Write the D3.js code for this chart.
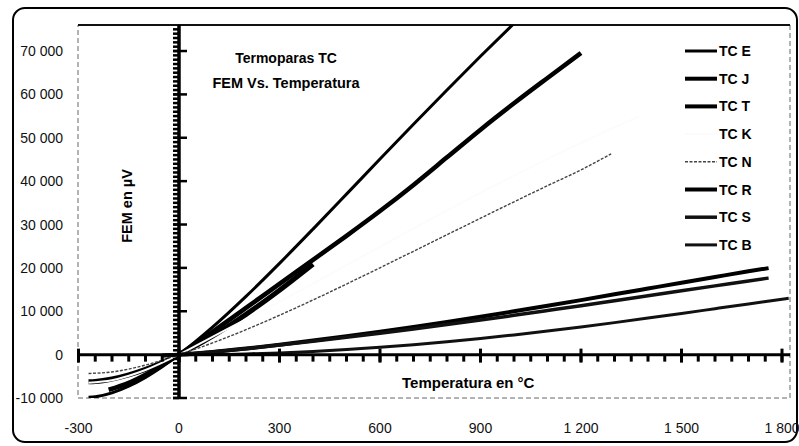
<!DOCTYPE html>
<html lang="es">
  <head>
    <meta charset="UTF-8" />
    <title>Termoparas TC</title>
    <style>
      body { margin: 0; background: #fff; }
      svg { display: block; font-family: "Liberation Sans", Arial, sans-serif; }
    </style>
    <script src="https://cdn.jsdelivr.net/npm/d3@7"></script>
  </head>
  <body>
    <script>
      // FEM (µV) vs temperatura (°C)
      const tcE = [[-270,-9835],[-250,-9718],[-200,-8825],[-150,-7279],[-100,-5237],[-50,-2787],[0,0],[100,6319],[200,13421],[300,21036],[400,28946],[500,36999],[600,45093],[700,53112],[800,61017],[900,68787],[1000,76373]];
      const tcJ = [[-210,-8095],[-150,-6500],[-100,-4633],[-50,-2431],[0,0],[100,5269],[200,10779],[300,16327],[400,21848],[500,27393],[600,33102],[700,39132],[800,45494],[900,51877],[1000,57953],[1100,63792],[1200,69553]];
      const tcT = [[-270,-6258],[-250,-6180],[-200,-5603],[-150,-4648],[-100,-3379],[-50,-1819],[0,0],[100,4279],[200,9288],[300,14862],[400,20872]];
      const tcK = [[-270,-6458],[-200,-5891],[-100,-3554],[0,0],[100,4096],[200,8138],[300,12209],[400,16397],[500,20644],[600,24905],[700,29129],[800,33275],[900,37326],[1000,41276],[1100,45119],[1200,48838],[1300,52410],[1372,54886]];
      const tcN = [[-270,-4345],[-200,-3990],[-100,-2407],[0,0],[100,2700],[200,5750],[300,9080],[400,12600],[500,16270],[600,20030],[700,23830],[800,27650],[900,31450],[1000,35230],[1100,38950],[1200,42600],[1290,46300]];
      const tcR = [[-50,-226],[0,0],[100,615],[200,1400],[300,2280],[400,3240],[500,4250],[600,5300],[700,6400],[800,7550],[900,8750],[1000,9980],[1100,11260],[1200,12570],[1300,13900],[1400,15240],[1500,16580],[1600,17900],[1700,19210],[1760,19950]];
      const tcS = [[-50,-236],[0,0],[100,610],[200,1360],[300,2200],[400,3080],[500,4000],[600,4950],[700,5930],[800,6940],[900,7980],[1000,9060],[1100,10170],[1200,11290],[1300,12440],[1400,13580],[1500,14720],[1600,15850],[1700,16960],[1760,17650]];
      const tcB = [[0,0],[100,30],[200,170],[300,400],[400,740],[500,1170],[600,1680],[700,2290],[800,2960],[900,3720],[1000,4540],[1100,5430],[1200,6380],[1300,7380],[1400,8420],[1500,9490],[1600,10590],[1700,11690],[1800,12780],[1820,13000]];

      const seriesNames = ["TC E", "TC J", "TC T", "TC K", "TC N", "TC R", "TC S", "TC B"];
      const seriesData = [tcE, tcJ, tcT, tcK, tcN, tcR, tcS, tcB];

      const xTicks = [-300, 0, 300, 600, 900, 1200, 1500, 1800];
      const xTickLabels = ["-300", "0", "300", "600", "900", "1 200", "1 500", "1 800"];
      const yTicks = [-10000, 0, 10000, 20000, 30000, 40000, 50000, 60000, 70000];
      const yTickLabels = ["-10 000", "0", "10 000", "20 000", "30 000", "40 000", "50 000", "60 000", "70 000"];

      const title1 = "Termoparas TC";
      const title2 = "FEM Vs. Temperatura";
      const xLabel = "Temperatura en °C";
      const yLabel = "FEM en µV";

      const width = 799;
      const height = 446;
      const plot = { left: 78, right: 790, top: 25, bottom: 398 };

      // estilo de cada serie (escaneo en blanco y negro, TC K casi invisible)
      const styles = [
        { color: "#000", w: 3, dash: null },
        { color: "#000", w: 4.5, dash: null },
        { color: "#000", w: 5, dash: null },
        { color: "#fcfcfc", w: 2, dash: null },
        { color: "#444", w: 1.4, dash: "3,1.5" },
        { color: "#000", w: 4, dash: null },
        { color: "#111", w: 3.5, dash: null },
        { color: "#111", w: 3, dash: null }
      ];

      const x = d3.scaleLinear().domain([-300, 1800]).range([78.5, 782]);
      const y = d3.scaleLinear().domain([-10000, 76000]).range([plot.bottom, plot.top]);

      const svg = d3.select("body").append("svg")
        .attr("width", width)
        .attr("height", height);

      // marco exterior redondeado
      svg.append("rect")
        .attr("x", 13).attr("y", 8)
        .attr("width", 784).attr("height", 434)
        .attr("rx", 12)
        .attr("fill", "#fff")
        .attr("stroke", "#000")
        .attr("stroke-width", 2);

      // area de trazado
      svg.append("rect")
        .attr("x", plot.left).attr("y", plot.top)
        .attr("width", plot.right - plot.left)
        .attr("height", plot.bottom - plot.top)
        .attr("fill", "none")
        .attr("stroke", "#666")
        .attr("stroke-width", 1)
        .attr("stroke-dasharray", "5,3");
      svg.append("line")
        .attr("x1", plot.left).attr("x2", plot.right)
        .attr("y1", plot.top).attr("y2", plot.top)
        .attr("stroke", "#111")
        .attr("stroke-width", 1.8);

      svg.append("clipPath").attr("id", "clip")
        .append("rect")
        .attr("x", plot.left).attr("y", plot.top)
        .attr("width", plot.right - plot.left)
        .attr("height", plot.bottom - plot.top);

      const line = d3.line()
        .x(d => x(d[0]))
        .y(d => y(d[1]))
        .curve(d3.curveMonotoneX);

      svg.append("g")
        .attr("clip-path", "url(#clip)")
        .selectAll("path")
        .data(seriesData)
        .enter()
        .append("path")
        .attr("d", line)
        .attr("fill", "none")
        .attr("stroke", (d, i) => styles[i].color)
        .attr("stroke-width", (d, i) => styles[i].w)
        .attr("stroke-dasharray", (d, i) => styles[i].dash)
        .attr("stroke-linejoin", "round");

      // eje X en y = 0
      const x0 = x(0);
      const y0 = y(0);
      const axes = svg.append("g").attr("stroke", "#000");
      axes.append("line")
        .attr("x1", plot.left).attr("x2", plot.right)
        .attr("y1", y0).attr("y2", y0)
        .attr("stroke-width", 3);
      axes.selectAll(".xminor")
        .data(d3.range(-300, 1801, 50))
        .enter().append("line")
        .attr("x1", d => x(d)).attr("x2", d => x(d))
        .attr("y1", y0).attr("y2", y0 + 7)
        .attr("stroke-width", 3);
      axes.selectAll(".xmajor")
        .data(xTicks)
        .enter().append("line")
        .attr("x1", d => x(d)).attr("x2", d => x(d))
        .attr("y1", y0 - 6).attr("y2", y0 + 8)
        .attr("stroke-width", 3);

      // eje Y en x = 0
      axes.append("line")
        .attr("x1", x0).attr("x2", x0)
        .attr("y1", plot.top).attr("y2", plot.bottom)
        .attr("stroke-width", 3.5);
      axes.selectAll(".yminor")
        .data(d3.range(-10000, 76000, 1000))
        .enter().append("line")
        .attr("x1", x0 - 6).attr("x2", x0)
        .attr("y1", d => y(d)).attr("y2", d => y(d))
        .attr("stroke-width", 2.5);
      axes.selectAll(".ymajor")
        .data(yTicks)
        .enter().append("line")
        .attr("x1", x0 - 6).attr("x2", x0 + 8)
        .attr("y1", d => y(d)).attr("y2", d => y(d))
        .attr("stroke-width", 2.5);

      // etiquetas de los ejes
      svg.append("g")
        .selectAll("text")
        .data(yTicks)
        .enter().append("text")
        .attr("x", 63)
        .attr("y", d => y(d) + 5)
        .attr("text-anchor", "end")
        .style("font-size", "14px")
        .attr("fill", "#111")
        .text((d, i) => yTickLabels[i]);

      svg.append("g")
        .selectAll("text")
        .data(xTicks)
        .enter().append("text")
        .attr("x", d => x(d))
        .attr("y", 433)
        .attr("text-anchor", "middle")
        .style("font-size", "14px")
        .attr("fill", "#111")
        .text((d, i) => xTickLabels[i]);

      // titulo
      svg.append("text")
        .attr("x", 286).attr("y", 63)
        .attr("text-anchor", "middle")
        .style("font-size", "14px")
        .style("font-weight", "bold")
        .text(title1);
      svg.append("text")
        .attr("x", 286).attr("y", 88)
        .attr("text-anchor", "middle")
        .style("font-size", "14.5px")
        .style("font-weight", "bold")
        .text(title2);

      svg.append("text")
        .attr("transform", "translate(132,206) rotate(-90)")
        .attr("text-anchor", "middle")
        .style("font-size", "14.5px")
        .style("font-weight", "bold")
        .text(yLabel);

      svg.append("text")
        .attr("x", 402).attr("y", 388)
        .style("font-size", "15px")
        .style("font-weight", "bold")
        .text(xLabel);

      // leyenda
      const legend = svg.append("g").attr("id", "legend");
      const items = legend.selectAll("g")
        .data(seriesNames)
        .enter().append("g")
        .attr("transform", (d, i) => "translate(0," + (51 + i * 27.7) + ")");
      items.append("line")
        .attr("x1", 685).attr("x2", 717)
        .attr("stroke", (d, i) => styles[i].color)
        .attr("stroke-width", (d, i) => Math.min(styles[i].w, 4))
        .attr("stroke-dasharray", (d, i) => styles[i].dash);
      items.append("text")
        .attr("x", 719).attr("y", 5)
        .style("font-family", "'Liberation Sans Narrow', 'Arial Narrow', 'Liberation Sans', sans-serif")
        .style("font-size", "14px")
        .style("font-weight", "bold")
        .text(d => d);
    </script>
  </body>
</html>
